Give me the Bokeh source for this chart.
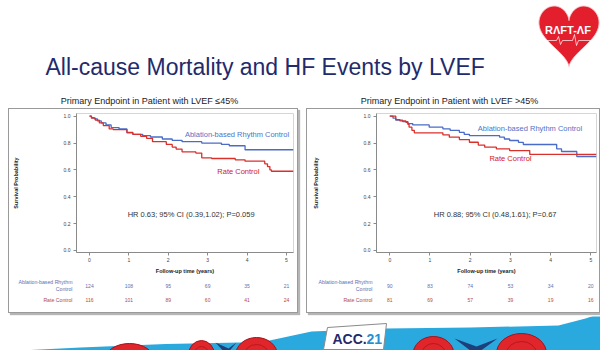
import numpy as np
from bokeh.plotting import figure
from bokeh.layouts import column, row
from bokeh.models import Range1d, FixedTicker, Label, NumeralTickFormatter
from bokeh.embed import file_html
from bokeh.resources import INLINE
from bokeh.core.properties import value

# ---------------- data ----------------
TITLE = "All-cause Mortality and HF Events by LVEF"
SUBTITLES = ["Primary Endpoint in Patient with LVEF \u226445%",
             "Primary Endpoint in Patient with LVEF >45%"]
series_names = ["Ablation-based Rhythm Control", "Rate Control"]
risk_row_labels = [["Ablation-based Rhythm", "Control"], ["Rate Control"]]
years = [0, 1, 2, 3, 4, 5]
y_ticks = [0.0, 0.2, 0.4, 0.6, 0.8, 1.0]

# LVEF <= 45%
low_abl_t = [0, 0.05, 0.12, 0.2, 0.3, 0.42, 0.55, 0.75, 0.95, 1.1, 1.35, 1.55, 1.85, 2.1, 2.35, 2.85, 3.35, 3.55, 3.95, 5.18]
low_abl_s = [1.0, 0.99, 0.98, 0.965, 0.95, 0.935, 0.915, 0.905, 0.875, 0.865, 0.855, 0.845, 0.83, 0.82, 0.81, 0.80, 0.79, 0.78, 0.75, 0.75]
low_rate_t = [0, 0.05, 0.15, 0.25, 0.35, 0.5, 0.6, 0.95, 1.1, 1.3, 1.45, 1.6, 1.95, 2.1, 2.2, 2.35, 2.7, 2.85, 3.1, 3.7, 3.95, 4.45, 4.52, 4.58, 4.62, 5.18]
low_rate_s = [1.0, 0.985, 0.97, 0.95, 0.93, 0.905, 0.9, 0.88, 0.865, 0.85, 0.835, 0.81, 0.79, 0.77, 0.755, 0.735, 0.725, 0.69, 0.685, 0.675, 0.665, 0.645, 0.625, 0.6, 0.59, 0.59]
low_risk_abl = [124, 108, 95, 69, 35, 21]
low_risk_rate = [116, 101, 89, 60, 41, 24]

# LVEF > 45%
high_abl_t = [0, 0.08, 0.15, 0.32, 0.45, 0.57, 0.98, 1.32, 1.5, 1.73, 1.85, 1.98, 2.73, 2.85, 2.98, 3.2, 3.32, 4.15, 4.27, 4.65, 5.14]
high_abl_s = [1.0, 0.985, 0.97, 0.96, 0.945, 0.935, 0.918, 0.906, 0.895, 0.88, 0.865, 0.856, 0.844, 0.83, 0.819, 0.805, 0.789, 0.757, 0.737, 0.70, 0.70]
high_rate_t = [0, 0.15, 0.25, 0.4, 0.45, 0.48, 0.55, 0.61, 1.32, 1.48, 1.73, 1.98, 2.2, 2.36, 2.65, 2.98, 3.48, 5.14]
high_rate_s = [1.0, 0.975, 0.965, 0.955, 0.94, 0.918, 0.895, 0.876, 0.861, 0.844, 0.826, 0.806, 0.785, 0.769, 0.757, 0.744, 0.715, 0.715]
high_risk_abl = [90, 83, 74, 53, 34, 20]
high_risk_rate = [81, 69, 57, 39, 19, 16]

hr_texts = ["HR 0.63; 95% CI (0.39,1.02); P=0.059", "HR 0.88; 95% CI (0.48,1.61); P=0.67"]

# ---------------- style ----------------
FONT = "Liberation Sans"
BLUE = "#4a6cc8"
RED = "#d9302c"
BLUE_TXT = "#5d6fae"
RED_TXT = "#b34a48"
NAVY = "#1f2b6c"


def blank(w, h, xr, yr, **kw):
    p = figure(width=w, height=h, x_range=xr, y_range=yr, x_axis_type=None, y_axis_type=None,
               title=None, output_backend="svg", toolbar_location=None, min_border=0, **kw)
    p.grid.visible = False
    p.outline_line_color = None
    p.background_fill_color = "white"
    p.border_fill_color = "white"
    return p


# ---------------- header ----------------
head = blank(600, 107, Range1d(0, 600), Range1d(107, 0))
head.text(x=[45], y=[66], text=[TITLE], text_font=value(FONT),
          text_font_size="23px", text_color=NAVY, text_baseline="alphabetic")
head.text(x=[149, 449], y=[100, 100], text=SUBTITLES, text_font=value(FONT), text_font_size="9px",
          text_color="#222222", text_align="center", text_baseline="middle")
tt = np.linspace(0, 2 * np.pi, 240)
hx = 16 * np.sin(tt) ** 3
hy = 13 * np.cos(tt) - 5 * np.cos(2 * tt) - 2 * np.cos(3 * tt) - np.cos(4 * tt)
head.patch(568.5 + hx * 1.88, 6 + (11.7 - hy) * 2.1, fill_color="#e31e2d", line_color="#f6c9cc", line_width=1)
head.text(x=[567.5], y=[29], text=["R\u039bFT-\u039bF"], text_font=value(FONT), text_font_style="bold",
          text_font_size="11px", text_color="white", text_align="center", text_baseline="middle")
head.line([545, 556, 558, 560, 562, 572, 574, 576, 578, 592],
          [40, 40, 36, 44, 40, 40, 34, 45, 40, 40], line_color="white", line_width=0.7)


def style_axis(ax):
    ax.axis_line_color = "#8a8a8a"
    ax.major_tick_line_color = "#8a8a8a"
    ax.major_tick_out = 3
    ax.major_tick_in = 0
    ax.minor_tick_line_color = None
    ax.major_label_text_font = FONT
    ax.major_label_text_font_size = "5px"
    ax.major_label_text_color = "#444444"
    ax.axis_label_text_font = FONT
    ax.axis_label_text_font_size = "5.5px"
    ax.axis_label_text_font_style = "bold"
    ax.axis_label_text_color = "#222222"


def risk_row(pw, xr, bl, br, h, yr, counts, labels, color):
    r = figure(width=pw, height=h, x_range=xr, y_range=yr, x_axis_type=None, title=None,
               output_backend="svg", toolbar_location=None,
               min_border_left=bl, min_border_right=br, min_border_top=0, min_border_bottom=0)
    r.grid.visible = False
    r.outline_line_color = None
    r.border_fill_color = None
    r.background_fill_color = None
    offs = [3.5, -3.5] if len(labels) == 2 else [0]
    ax = r.yaxis[0]
    ax.ticker = FixedTicker(ticks=offs)
    ax.major_label_overrides = {o: lab for o, lab in zip(offs, labels)}
    ax.axis_line_color = None
    ax.major_tick_line_color = None
    ax.minor_tick_line_color = None
    ax.major_tick_out = 0
    ax.major_tick_in = 0
    ax.major_label_standoff = 4
    ax.major_label_text_font = FONT
    ax.major_label_text_font_size = "5.2px"
    ax.major_label_text_color = color
    r.text(x=years, y=[0] * len(years), text=[str(c) for c in counts], text_font=value(FONT),
           text_font_size="5px", text_color=color, text_align="center", text_baseline="middle")
    return r


# ---------------- KM panels ----------------
def km_panel(pw, xend, bl, br, margin, abl_t, abl_s, rate_t, rate_s,
             risk_abl, risk_rate, hr, abl_lbl, rate_lbl, hr_pos):
    xr = Range1d(-0.33, xend)
    p = figure(width=pw, height=167, x_range=xr, y_range=Range1d(-0.015, 1.02), title=None,
               output_backend="svg", toolbar_location=None,
               min_border_left=bl, min_border_right=br, min_border_top=4, min_border_bottom=23)
    p.grid.visible = False
    p.outline_line_color = "#d6d6d6"
    p.border_fill_color = None
    p.step(abl_t, abl_s, mode="after", line_color=BLUE, line_width=1.3)
    p.step(rate_t, rate_s, mode="after", line_color=RED, line_width=1.3)

    style_axis(p.xaxis[0])
    style_axis(p.yaxis[0])
    p.xaxis.ticker = FixedTicker(ticks=years)
    p.xaxis.axis_label = "Follow-up time (years)"
    p.xaxis.major_label_standoff = 2
    p.xaxis.axis_label_standoff = 3
    p.yaxis.ticker = FixedTicker(ticks=y_ticks)
    p.yaxis.formatter = NumeralTickFormatter(format="0.0")
    p.yaxis.axis_label = "Survival Probability"
    p.yaxis.major_label_standoff = 3
    p.yaxis.axis_label_standoff = 42

    p.add_layout(Label(x=abl_lbl[0], y=abl_lbl[1], text=series_names[0], text_align=abl_lbl[2],
                       text_baseline="middle", text_font=FONT, text_font_size="7.5px", text_color="#4f73c9"))
    p.add_layout(Label(x=rate_lbl[0], y=rate_lbl[1], text=series_names[1], text_align="center",
                       text_baseline="middle", text_font=FONT, text_font_size="7.5px", text_color="#d42020"))
    p.add_layout(Label(x=hr_pos[0], y=hr_pos[1], text=hr, text_align="center", text_baseline="middle",
                       text_font=FONT, text_font_size="7.5px", text_color="#333333"))

    r1 = risk_row(pw, xr, bl, br, 17, Range1d(-8, 9), risk_abl, risk_row_labels[0], BLUE_TXT)
    r2 = risk_row(pw, xr, bl, br, 19, Range1d(-13, 6), risk_rate, risk_row_labels[1], RED_TXT)

    return column(p, r1, r2, spacing=0, margin=margin,
                  styles={"border": "1px solid #9a9a9a", "box-shadow": "2px 2px 1px #b5b5b5",
                          "background-color": "white"})


left = km_panel(288, 5.18, 64, 4, (1, 4, 3, 8),
                low_abl_t, low_abl_s, low_rate_t, low_rate_s,
                low_risk_abl, low_risk_rate, hr_texts[0],
                (5.07, 0.864, "right"), (3.78, 0.59), (2.58, 0.268))
right = km_panel(292, 5.14, 69, 3, (1, 4, 3, 4),
                 high_abl_t, high_abl_s, high_rate_t, high_rate_s,
                 high_risk_abl, high_risk_rate, hr_texts[1],
                 (2.19, 0.906, "left"), (3.0, 0.683), (2.62, 0.268))

# ---------------- footer ----------------
foot = blank(600, 36, Range1d(0, 600), Range1d(350, 314))
foot.patch([0, 80, 165, 240, 269, 311, 385, 470, 558, 585, 600, 600, 0],
           [349, 345, 341.5, 340, 338, 329, 326, 325, 323, 316, 311, 352, 352],
           fill_color="#2aa9df", line_color=None)
foot.patch([215, 226, 236, 228], [340, 352, 340, 346], fill_color="#1d3f7a", line_color=None)
foot.patch([454, 475, 497, 476], [336, 352, 336, 344], fill_color="#1d3f7a", line_color=None)
foot.ellipse(x=[129, 201, 256, 433, 521], y=[358, 354, 353, 352, 351],
             width=[50, 27, 42, 41, 50], height=[34, 32, 36, 36, 40],
             fill_color="#e0252b", line_color="#a5121a", line_width=1)
foot.ellipse(x=[129, 201, 256, 433, 521], y=[358, 354, 353, 352, 351],
             width=[30, 16, 25, 24, 30], height=[20, 20, 22, 22, 24],
             fill_color=None, line_color="#b51a20", line_width=1)
foot.patch([327, 386, 383, 323], [325, 321, 347, 347], fill_color="white", line_color="#8a8a8a", line_width=1)
foot.text(x=[332], y=[336], text=["ACC."], text_font=value(FONT), text_font_style="bold",
          text_font_size="14px", text_color=NAVY, text_baseline="middle")
foot.text(x=[366], y=[336], text=["21"], text_font=value(FONT), text_font_style="bold",
          text_font_size="14px", text_color="#2a8fd0", text_baseline="middle")

layout = column(head, row(left, right, spacing=0), foot, spacing=0)
open("out.html", "w").write(file_html(layout, INLINE))
